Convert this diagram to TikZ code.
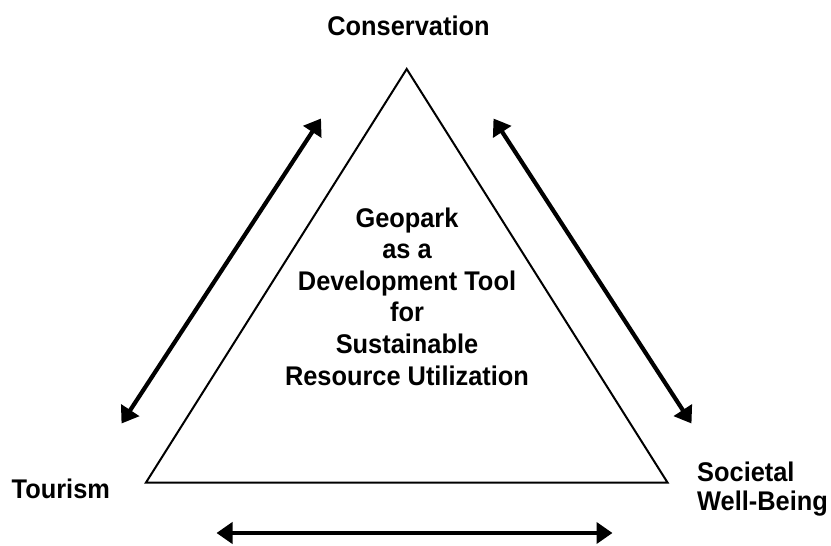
\documentclass[tikz,border=0pt]{standalone}
\usepackage{fontspec}
\setmainfont{Liberation Sans}[FakeStretch=0.94]
\usetikzlibrary{arrows.meta}
\begin{document}
\begin{tikzpicture}[x=1pt,y=-1pt,
  lbl/.style={font=\fontsize{27}{29}\selectfont\bfseries, inner sep=0pt},
  tri/.style={draw=black, line width=2pt, line join=miter},
  dbl/.style={line width=4.2pt, {Triangle[length=16pt,width=21pt]}-{Triangle[length=16pt,width=21pt]}}]
\useasboundingbox (0,0) rectangle (831,546);
% triangle corners
\coordinate (A) at (406.7,69);
\coordinate (B) at (146,482.5);
\coordinate (C) at (667.5,482.5);
\draw[tri] (A) -- (B) -- (C) -- cycle;
% arrow end points
\coordinate (l1) at (121.5,423.5);
\coordinate (l2) at (321,118.5);
\coordinate (r1) at (493.5,118.5);
\coordinate (r2) at (691.5,423.5);
\coordinate (b1) at (216.5,533);
\coordinate (b2) at (612.5,533);
\draw[dbl] (l1) -- (l2);
\draw[dbl] (r1) -- (r2);
\draw[dbl] (b1) -- (b2);
% labels
\node[lbl, anchor=base] (cons) at (408.5,35) {Conservation};
\node[lbl, anchor=base west] (tour) at (11.5,498) {Tourism};
\node[lbl, anchor=base west, align=left] (soc) at (697,510) {Societal\\Well-Being};
\node[lbl, anchor=base, align=center, font=\fontsize{27}{31.6}\selectfont\bfseries] (ctr) at (407,385)
  {Geopark\\as a\\Development Tool\\for\\Sustainable\\Resource Utilization};
\end{tikzpicture}
\end{document}
